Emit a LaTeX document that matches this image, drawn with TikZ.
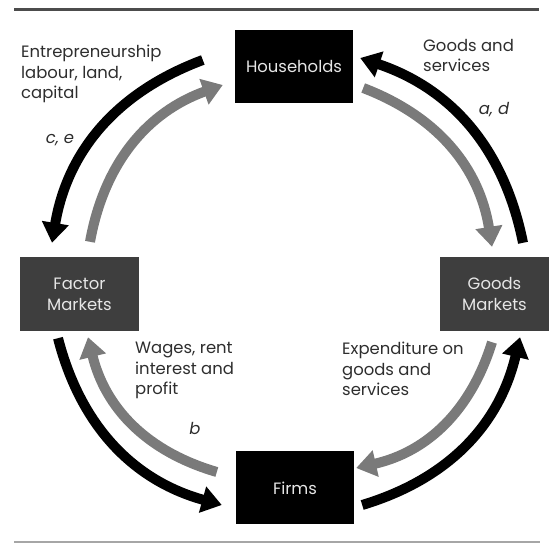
\documentclass[tikz,border=0pt]{standalone}
\usepackage{fontspec}
\setmainfont{Poppins}
\usetikzlibrary{arrows.meta}
\definecolor{boxgray}{HTML}{3E3E3E}
\definecolor{arrowgray}{HTML}{7A7A7A}
\definecolor{textgray}{HTML}{2E2E2E}
\definecolor{boxtext}{HTML}{E6E6E6}
\begin{document}
\begin{tikzpicture}[x=1bp,y=1bp,
  box/.style={fill=black, text=boxtext, minimum width=118bp, minimum height=73bp,
    inner sep=0pt, align=center, font=\fontsize{16.5}{21}\selectfont},
  mbox/.style={box, fill=boxgray},
  blk/.style={line width=10bp, draw=black, -{Triangle[width=26bp,length=20bp]}},
  gry/.style={blk, draw=arrowgray},
  lbl/.style={anchor=north west, align=left, inner sep=0pt,
    font=\fontsize{16.5}{20.5}\selectfont, text=textgray},
  let/.style={inner sep=0pt, font=\fontsize{16.5}{20.5}\selectfont\itshape, text=textgray}
]
\useasboundingbox (0,0) rectangle (549,546);
\draw[line width=3bp, draw=black!70] (14,536.5) -- (539,536.5);
\draw[line width=2.5bp, draw=black!35] (14,4) -- (540,4);

\node[box]  (hh) at (294,479.5) {Households};
\node[box]  (ff) at (295,58) {Firms};
\node[mbox, minimum width=119bp, minimum height=74bp] (fm) at (79.5,252) {Factor\\Markets};
\node[mbox, minimum width=109bp, minimum height=74bp] (gm) at (494.5,252) {Goods\\Markets};

% black arrows (counter-clockwise)
\draw[blk] ([shift={(-32,6.5)}]hh.west) to[bend right=30] ([shift={(-27.5,14)}]fm.north);
\draw[blk] ([shift={(-21.5,-7)}]fm.south) to[bend right=30] ([shift={(-14,-17)}]ff.west);
\draw[blk] ([shift={(8,-17)}]ff.east) to[bend right=30] ([shift={(25.5,-6)}]gm.south);
\draw[blk] ([shift={(28.5,14)}]gm.north) to[bend right=30] ([shift={(7,8.5)}]hh.east);

% gray arrows (clockwise)
\draw[gry] ([shift={(10.5,15)}]fm.north) to[bend left=30] ([shift={(-12,-18.5)}]hh.west);
\draw[gry] ([shift={(10,-21.5)}]hh.east) to[bend left=30] ([shift={(-2.5,10)}]gm.north);
\draw[gry] ([shift={(-2.5,-11)}]gm.south) to[bend left=30] ([shift={(2,20)}]ff.east);
\draw[gry] ([shift={(-19,16)}]ff.west) to[bend left=30] ([shift={(8.5,-6)}]fm.south);

\node[lbl] (l1) at (21,501) {Entrepreneurship\\labour, land,\\capital};
\node[lbl] (l2) at (423,507) {Goods and\\services};
\node[lbl] (l3) at (135,204) {Wages, rent\\interest and\\profit};
\node[lbl] (l4) at (342,204) {Expenditure on\\goods and\\services};
\node[let] (ce) at (60,406) {c, e};
\node[let] (ad) at (494,436) {a, d};
\node[let] (b)  at (195,118) {b};
\end{tikzpicture}
\end{document}
